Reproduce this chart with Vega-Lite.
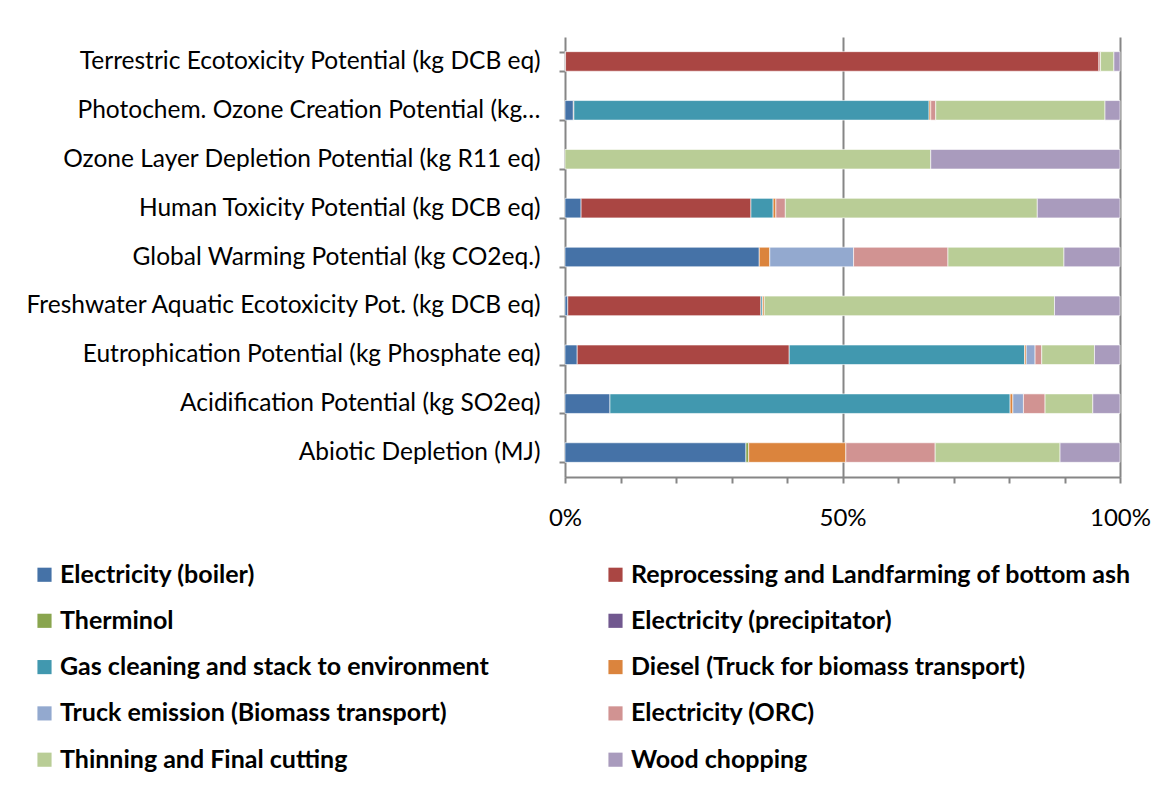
{
  "$schema": "https://vega.github.io/schema/vega-lite/v6.json",
  "autosize": "none",
  "width": 555,
  "height": 440,
  "padding": {"left": 565, "top": 37, "right": 46, "bottom": 314},
  "background": "white",
  "config": {
    "font": "Lato",
    "view": {"stroke": null}
  },
  "data": {
    "values": [
      {"cat": "Terrestric Ecotoxicity Potential (kg DCB eq)", "src": "Electricity (boiler)", "v": 0.1},
      {"cat": "Terrestric Ecotoxicity Potential (kg DCB eq)", "src": "Reprocessing and Landfarming of bottom ash", "v": 96.1},
      {"cat": "Terrestric Ecotoxicity Potential (kg DCB eq)", "src": "Electricity (ORC)", "v": 0.3},
      {"cat": "Terrestric Ecotoxicity Potential (kg DCB eq)", "src": "Thinning and Final cutting", "v": 2.4},
      {"cat": "Terrestric Ecotoxicity Potential (kg DCB eq)", "src": "Wood chopping", "v": 1.1},

      {"cat": "Photochem. Ozone Creation Potential (kg…", "src": "Electricity (boiler)", "v": 1.5},
      {"cat": "Photochem. Ozone Creation Potential (kg…", "src": "Reprocessing and Landfarming of bottom ash", "v": 0.1},
      {"cat": "Photochem. Ozone Creation Potential (kg…", "src": "Gas cleaning and stack to environment", "v": 64.0},
      {"cat": "Photochem. Ozone Creation Potential (kg…", "src": "Diesel (Truck for biomass transport)", "v": 0.3},
      {"cat": "Photochem. Ozone Creation Potential (kg…", "src": "Electricity (ORC)", "v": 0.9},
      {"cat": "Photochem. Ozone Creation Potential (kg…", "src": "Thinning and Final cutting", "v": 30.5},
      {"cat": "Photochem. Ozone Creation Potential (kg…", "src": "Wood chopping", "v": 2.7},

      {"cat": "Ozone Layer Depletion Potential (kg R11 eq)", "src": "Thinning and Final cutting", "v": 65.9},
      {"cat": "Ozone Layer Depletion Potential (kg R11 eq)", "src": "Wood chopping", "v": 34.1},

      {"cat": "Human Toxicity Potential (kg DCB eq)", "src": "Electricity (boiler)", "v": 2.9},
      {"cat": "Human Toxicity Potential (kg DCB eq)", "src": "Reprocessing and Landfarming of bottom ash", "v": 30.6},
      {"cat": "Human Toxicity Potential (kg DCB eq)", "src": "Gas cleaning and stack to environment", "v": 4.0},
      {"cat": "Human Toxicity Potential (kg DCB eq)", "src": "Diesel (Truck for biomass transport)", "v": 0.5},
      {"cat": "Human Toxicity Potential (kg DCB eq)", "src": "Electricity (ORC)", "v": 1.7},
      {"cat": "Human Toxicity Potential (kg DCB eq)", "src": "Thinning and Final cutting", "v": 45.4},
      {"cat": "Human Toxicity Potential (kg DCB eq)", "src": "Wood chopping", "v": 14.9},

      {"cat": "Global Warming Potential (kg CO2eq.)", "src": "Electricity (boiler)", "v": 35.0},
      {"cat": "Global Warming Potential (kg CO2eq.)", "src": "Diesel (Truck for biomass transport)", "v": 1.9},
      {"cat": "Global Warming Potential (kg CO2eq.)", "src": "Truck emission (Biomass transport)", "v": 15.1},
      {"cat": "Global Warming Potential (kg CO2eq.)", "src": "Electricity (ORC)", "v": 17.0},
      {"cat": "Global Warming Potential (kg CO2eq.)", "src": "Thinning and Final cutting", "v": 20.9},
      {"cat": "Global Warming Potential (kg CO2eq.)", "src": "Wood chopping", "v": 10.1},

      {"cat": "Freshwater Aquatic Ecotoxicity Pot. (kg DCB eq)", "src": "Electricity (boiler)", "v": 0.5},
      {"cat": "Freshwater Aquatic Ecotoxicity Pot. (kg DCB eq)", "src": "Reprocessing and Landfarming of bottom ash", "v": 34.8},
      {"cat": "Freshwater Aquatic Ecotoxicity Pot. (kg DCB eq)", "src": "Gas cleaning and stack to environment", "v": 0.3},
      {"cat": "Freshwater Aquatic Ecotoxicity Pot. (kg DCB eq)", "src": "Diesel (Truck for biomass transport)", "v": 0.3},
      {"cat": "Freshwater Aquatic Ecotoxicity Pot. (kg DCB eq)", "src": "Thinning and Final cutting", "v": 52.3},
      {"cat": "Freshwater Aquatic Ecotoxicity Pot. (kg DCB eq)", "src": "Wood chopping", "v": 11.8},

      {"cat": "Eutrophication Potential (kg Phosphate eq)", "src": "Electricity (boiler)", "v": 2.2},
      {"cat": "Eutrophication Potential (kg Phosphate eq)", "src": "Reprocessing and Landfarming of bottom ash", "v": 38.2},
      {"cat": "Eutrophication Potential (kg Phosphate eq)", "src": "Gas cleaning and stack to environment", "v": 42.4},
      {"cat": "Eutrophication Potential (kg Phosphate eq)", "src": "Diesel (Truck for biomass transport)", "v": 0.3},
      {"cat": "Eutrophication Potential (kg Phosphate eq)", "src": "Truck emission (Biomass transport)", "v": 1.6},
      {"cat": "Eutrophication Potential (kg Phosphate eq)", "src": "Electricity (ORC)", "v": 1.2},
      {"cat": "Eutrophication Potential (kg Phosphate eq)", "src": "Thinning and Final cutting", "v": 9.5},
      {"cat": "Eutrophication Potential (kg Phosphate eq)", "src": "Wood chopping", "v": 4.6},

      {"cat": "Acidification Potential (kg SO2eq)", "src": "Electricity (boiler)", "v": 8.1},
      {"cat": "Acidification Potential (kg SO2eq)", "src": "Gas cleaning and stack to environment", "v": 72.1},
      {"cat": "Acidification Potential (kg SO2eq)", "src": "Diesel (Truck for biomass transport)", "v": 0.5},
      {"cat": "Acidification Potential (kg SO2eq)", "src": "Truck emission (Biomass transport)", "v": 1.9},
      {"cat": "Acidification Potential (kg SO2eq)", "src": "Electricity (ORC)", "v": 3.9},
      {"cat": "Acidification Potential (kg SO2eq)", "src": "Thinning and Final cutting", "v": 8.6},
      {"cat": "Acidification Potential (kg SO2eq)", "src": "Wood chopping", "v": 4.9},

      {"cat": "Abiotic Depletion (MJ)", "src": "Electricity (boiler)", "v": 32.6},
      {"cat": "Abiotic Depletion (MJ)", "src": "Therminol", "v": 0.5},
      {"cat": "Abiotic Depletion (MJ)", "src": "Diesel (Truck for biomass transport)", "v": 17.5},
      {"cat": "Abiotic Depletion (MJ)", "src": "Electricity (ORC)", "v": 16.1},
      {"cat": "Abiotic Depletion (MJ)", "src": "Thinning and Final cutting", "v": 22.5},
      {"cat": "Abiotic Depletion (MJ)", "src": "Wood chopping", "v": 10.8}
    ]
  },
  "transform": [
    {"calculate": "indexof(['Electricity (boiler)','Reprocessing and Landfarming of bottom ash','Therminol','Electricity (precipitator)','Gas cleaning and stack to environment','Diesel (Truck for biomass transport)','Truck emission (Biomass transport)','Electricity (ORC)','Thinning and Final cutting','Wood chopping'], datum.src)", "as": "ord"}
  ],
  "mark": {"type": "bar", "stroke": "white", "strokeWidth": 0.6},
  "encoding": {
    "y": {
      "field": "cat",
      "type": "nominal",
      "sort": [
        "Terrestric Ecotoxicity Potential (kg DCB eq)",
        "Photochem. Ozone Creation Potential (kg…",
        "Ozone Layer Depletion Potential (kg R11 eq)",
        "Human Toxicity Potential (kg DCB eq)",
        "Global Warming Potential (kg CO2eq.)",
        "Freshwater Aquatic Ecotoxicity Pot. (kg DCB eq)",
        "Eutrophication Potential (kg Phosphate eq)",
        "Acidification Potential (kg SO2eq)",
        "Abiotic Depletion (MJ)"
      ],
      "scale": {"paddingInner": 0.6, "paddingOuter": 0.3},
      "axis": {
        "title": null,
        "labelFont": "Lato",
        "labelFontSize": 24.5,
        "labelColor": "#000000",
        "labelLimit": 600,
        "labelPadding": 19,
        "tickBand": "extent",
        "tickSize": 6,
        "tickColor": "#868686",
        "tickWidth": 2,
        "domainColor": "#868686",
        "domainWidth": 2,
        "grid": false
      }
    },
    "x": {
      "field": "v",
      "type": "quantitative",
      "stack": "normalize",
      "scale": {"domain": [0, 1], "nice": false},
      "axis": {
        "title": null,
        "values": [0, 0.1, 0.2, 0.3, 0.4, 0.5, 0.6, 0.7, 0.8, 0.9, 1],
        "labelExpr": "datum.value == 0 || datum.value == 0.5 || datum.value == 1 ? format(datum.value, '.0%') : ''",
        "labelFont": "Lato",
        "labelFontSize": 24,
        "labelColor": "#000000",
        "labelPadding": 23,
        "labelFlush": false,
        "labelOverlap": false,
        "tickSize": 6,
        "tickColor": "#868686",
        "tickWidth": 2,
        "domainColor": "#868686",
        "domainWidth": 2,
        "grid": true,
        "gridColor": "#868686",
        "gridWidth": 2,
        "gridOpacity": {"condition": {"test": "datum.value == 0.5 || datum.value == 1", "value": 1}, "value": 0}
      }
    },
    "color": {
      "field": "src",
      "type": "nominal",
      "scale": {
        "domain": ["Electricity (boiler)", "Therminol", "Gas cleaning and stack to environment", "Truck emission (Biomass transport)", "Thinning and Final cutting", "Reprocessing and Landfarming of bottom ash", "Electricity (precipitator)", "Diesel (Truck for biomass transport)", "Electricity (ORC)", "Wood chopping"],
        "range": ["#4572A7", "#89A54E", "#4198AF", "#93A9CF", "#B9CD96", "#AA4643", "#71588F", "#DB843D", "#D19392", "#A99BBD"]
      },
      "legend": {
        "title": null,
        "orient": "none",
        "legendX": -533,
        "legendY": 525,
        "columns": 2,
        "columnPadding": 114,
        "rowPadding": 20.3,
        "symbolType": "square",
        "symbolSize": 200,
        "symbolStrokeWidth": 0,
        "labelFont": "Lato",
        "labelFontSize": 25,
        "labelFontWeight": "bold",
        "labelColor": "#000000",
        "labelLimit": 700,
        "labelOffset": 3
      }
    },
    "order": {"field": "ord", "type": "quantitative"}
  }
}
